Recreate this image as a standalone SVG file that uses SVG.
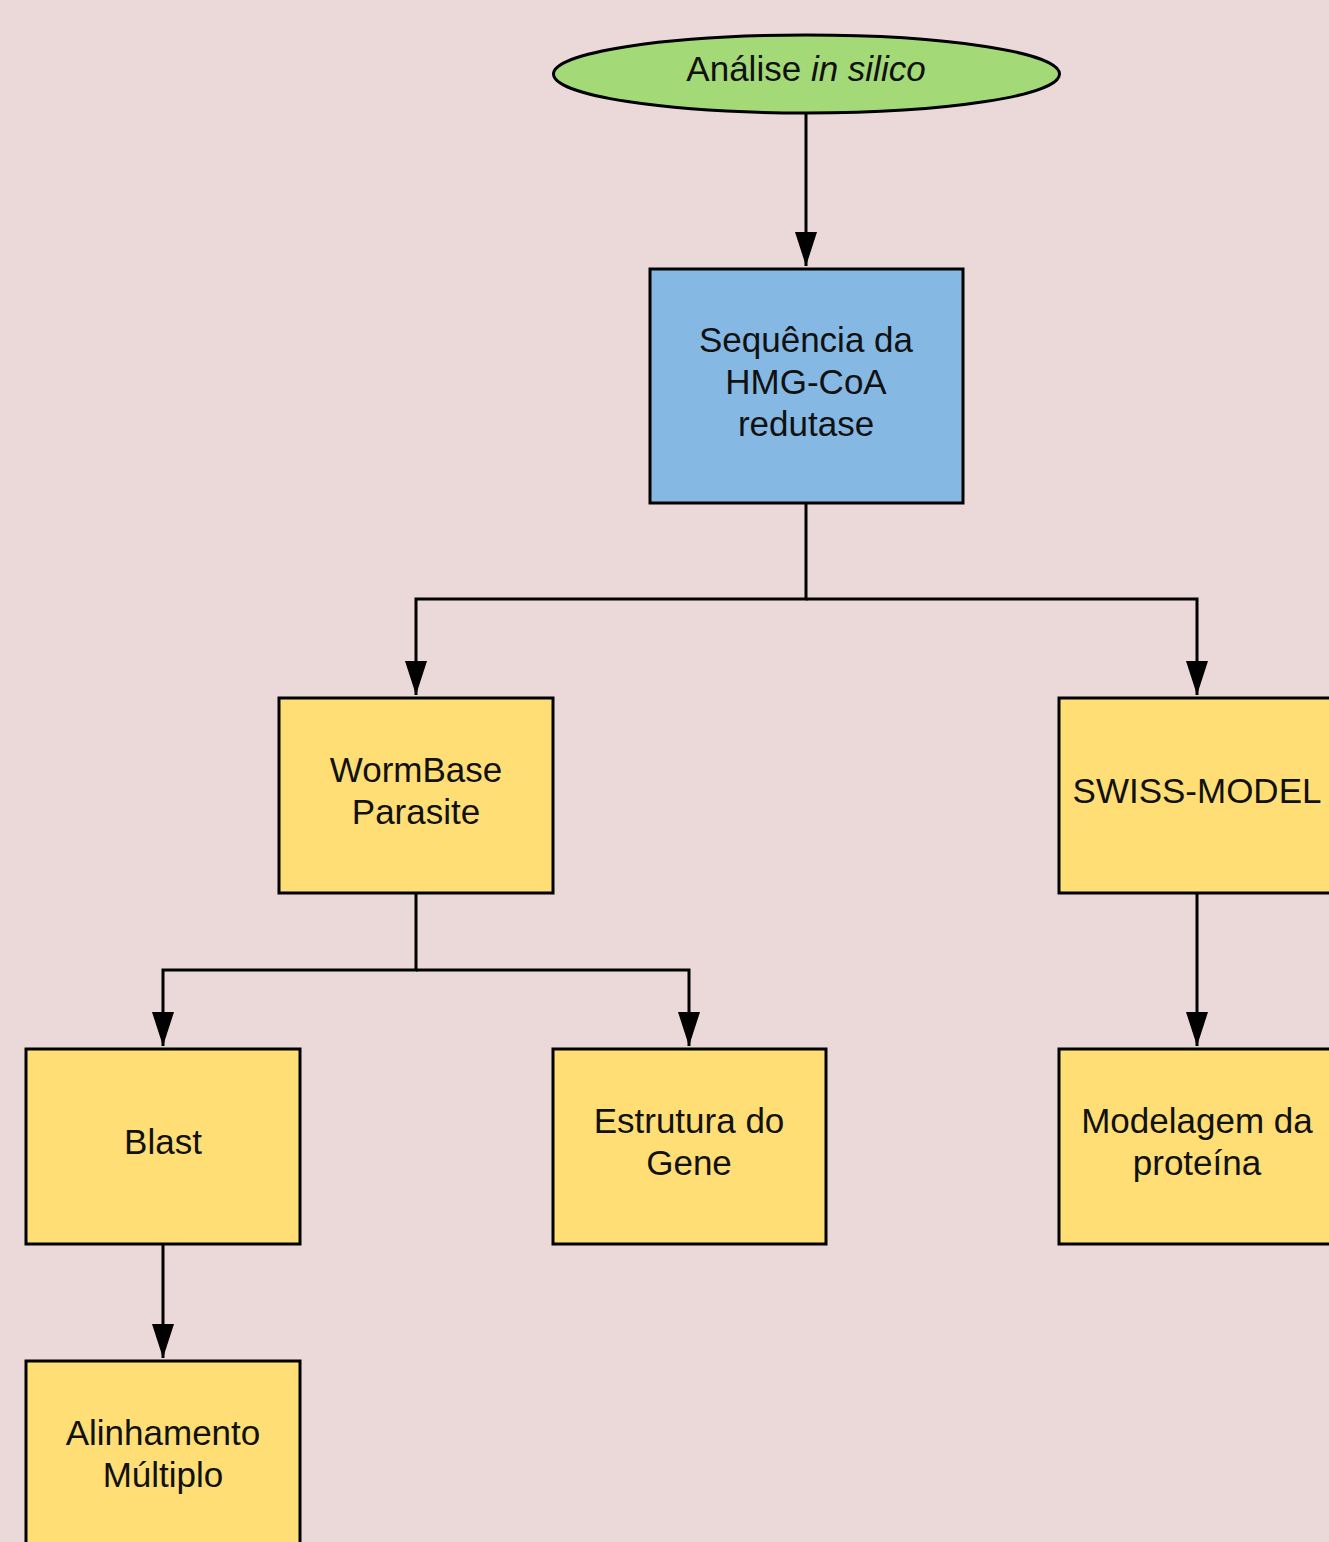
<svg xmlns="http://www.w3.org/2000/svg" width="1329" height="1542" viewBox="0 0 1329 1542">
<defs>
<style>
.n{stroke:#000;stroke-width:3}
.y{fill:#FFDE75}
.t{font-family:"Liberation Sans",Arial,sans-serif;font-size:35px;fill:#111;text-anchor:middle}
.c{fill:none;stroke:#000;stroke-width:3}
</style>
<marker id="a" markerUnits="userSpaceOnUse" markerWidth="34" markerHeight="22" refX="34" refY="11" orient="auto" viewBox="0 0 34 22">
<path d="M0,0 L34,11 L0,22 Z" fill="#000"/>
</marker>
</defs>
<rect width="1329" height="1542" fill="#EAD9D8"/>
<g id="connectors">
<path class="c" d="M806,113 V266" marker-end="url(#a)"/>
<path class="c" d="M806,503 V599 H416 V695" marker-end="url(#a)"/>
<path class="c" d="M806,599 H1197 V695" marker-end="url(#a)"/>
<path class="c" d="M416,893 V970 H163 V1046" marker-end="url(#a)"/>
<path class="c" d="M416,970 H689 V1046" marker-end="url(#a)"/>
<path class="c" d="M1197,893 V1046" marker-end="url(#a)"/>
<path class="c" d="M163,1244 V1358" marker-end="url(#a)"/>
</g>
<g id="start">
<ellipse class="n" cx="806.5" cy="74" rx="253" ry="39" fill="#A3D977"/>
<text class="t" x="806" y="81">Análise <tspan font-style="italic">in silico</tspan></text>
</g>
<g id="sequencia">
<rect class="n" x="650" y="269" width="313" height="234" fill="#85B8E3"/>
<text class="t" x="806" y="352">Sequência da</text>
<text class="t" x="806" y="394">HMG-CoA</text>
<text class="t" x="806" y="436">redutase</text>
</g>
<g id="wormbase">
<rect class="n y" x="279" y="698" width="274" height="195"/>
<text class="t" x="416" y="782">WormBase</text>
<text class="t" x="416" y="824">Parasite</text>
</g>
<g id="swissmodel">
<rect class="n y" x="1059" y="698" width="276" height="195"/>
<text class="t" x="1197" y="803">SWISS-MODEL</text>
</g>
<g id="blast">
<rect class="n y" x="26" y="1049" width="274" height="195"/>
<text class="t" x="163" y="1154">Blast</text>
</g>
<g id="estrutura">
<rect class="n y" x="553" y="1049" width="273" height="195"/>
<text class="t" x="689" y="1133">Estrutura do</text>
<text class="t" x="689" y="1175">Gene</text>
</g>
<g id="modelagem">
<rect class="n y" x="1059" y="1049" width="276" height="195"/>
<text class="t" x="1197" y="1133">Modelagem da</text>
<text class="t" x="1197" y="1175">proteína</text>
</g>
<g id="alinhamento">
<rect class="n y" x="26" y="1361" width="274" height="195"/>
<text class="t" x="163" y="1445">Alinhamento</text>
<text class="t" x="163" y="1487">Múltiplo</text>
</g>
</svg>
